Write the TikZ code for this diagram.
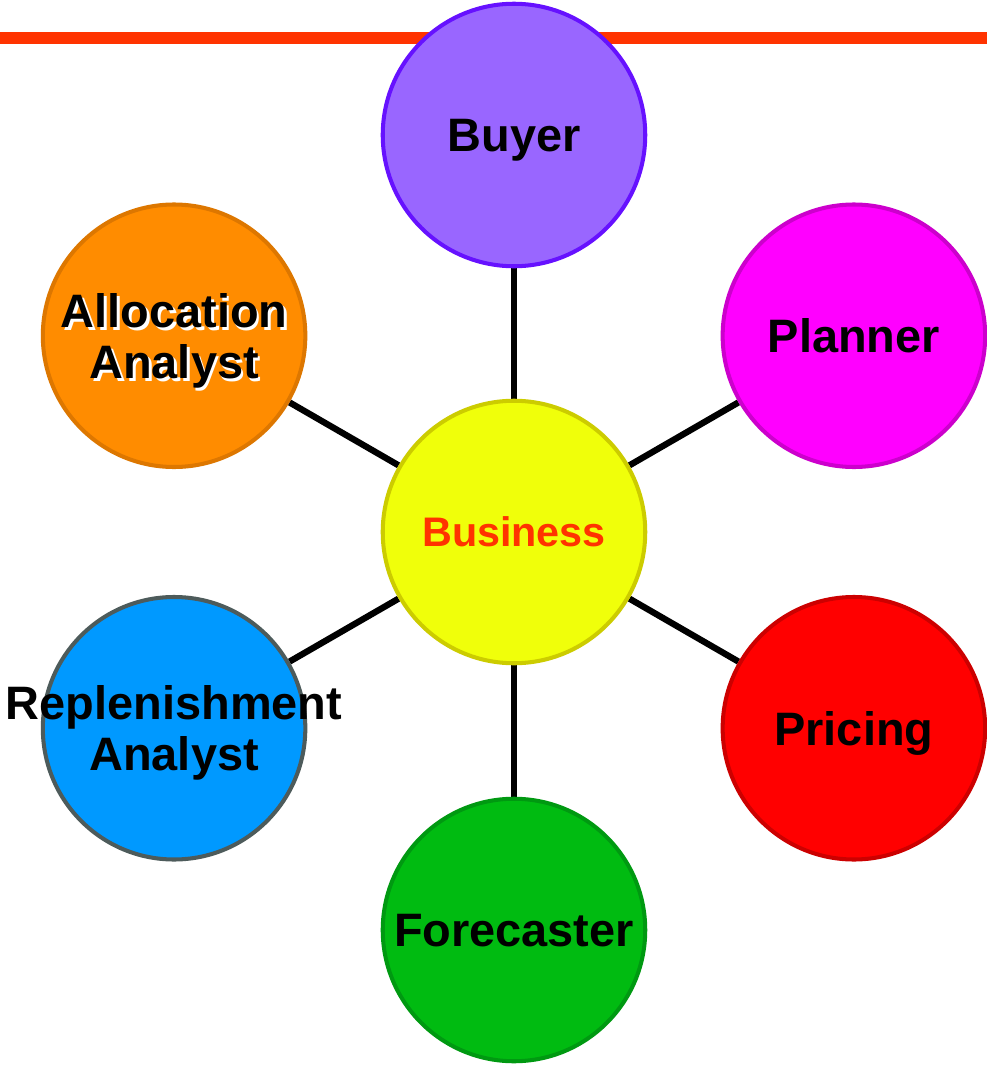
\documentclass[tikz,border=0pt]{standalone}
\usepackage{fontspec}
\setmainfont{Liberation Sans}
\usetikzlibrary{backgrounds}

\definecolor{barred}{HTML}{FF3300}
\definecolor{buyerfill}{HTML}{9966FF}
\definecolor{buyerline}{HTML}{6611FF}
\definecolor{plannerfill}{HTML}{FF00FF}
\definecolor{plannerline}{HTML}{CC00CC}
\definecolor{businessfill}{HTML}{F0FF0A}
\definecolor{businessline}{HTML}{CCCC00}
\definecolor{allocfill}{HTML}{FF8C00}
\definecolor{allocline}{HTML}{DD7700}
\definecolor{replenfill}{HTML}{0099FF}
\definecolor{replenline}{HTML}{4D5B5B}
\definecolor{pricingfill}{HTML}{FF0000}
\definecolor{pricingline}{HTML}{CC0000}
\definecolor{forecastfill}{HTML}{00BB11}
\definecolor{forecastline}{HTML}{009911}

\newcommand{\whiteshadow}[1]{\rlap{\raisebox{-1.6pt}{\hspace{1.6pt}\textcolor{white}{#1}}}#1}

\begin{document}
\begin{tikzpicture}[auto,
    role/.style ={circle, draw, line width=2.3pt, inner sep = 0pt, minimum size=5.25cm,
                  align=center, font=\bfseries\fontsize{26.7}{29}\selectfont},
    oneline/.style ={text height=19.1pt, text depth=0pt},
    twoline/.style ={text depth=0pt},
    spoke/.style ={line width=3.6pt}]
   \useasboundingbox (-10.28,-10.68) rectangle (9.46,10.64);
   \fill[barred] (-10.28,9.76) rectangle (9.46,10.0);

   \node[role, fill=businessfill, draw=businessline, text=barred, text height=16.8pt, text depth=0pt,
         font=\bfseries\fontsize{23.5}{28}\selectfont] (Bus) at (0,0) {Business};
   \node[role, oneline, fill=buyerfill, draw=buyerline] (Buy) at (90:7.94cm) {Buyer};
   \node[role, oneline, fill=plannerfill, draw=plannerline] (Pla) at (30:7.85cm) {Planner};
   \node[role, oneline, fill=pricingfill, draw=pricingline] (Pri) at (-30:7.85cm) {Pricing};
   \node[role, oneline, fill=forecastfill, draw=forecastline] (For) at (-90:7.96cm) {Forecaster};
   \node[role, twoline, fill=replenfill, draw=replenline] (Rep) at (210:7.85cm) {\makebox[0pt]{Replenishment}\\Analyst};
   \node[role, twoline, fill=allocfill, draw=allocline] (All) at (150:7.85cm) {\whiteshadow{Allocation}\\\whiteshadow{Analyst}};

   \begin{scope}[on background layer]
   \draw[spoke] (Bus) to (Buy);
   \draw[spoke] (Bus) to (Pla);
   \draw[spoke] (Bus) to (Pri);
   \draw[spoke] (Bus) to (For);
   \draw[spoke] (Bus) to (Rep);
   \draw[spoke] (Bus) to (All);
   \end{scope}
 \end{tikzpicture}
\end{document}
